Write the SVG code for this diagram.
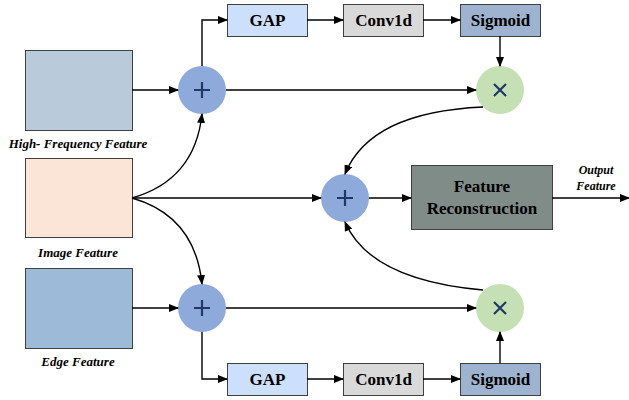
<svg xmlns="http://www.w3.org/2000/svg" width="629" height="400" viewBox="0 0 629 400">
<defs>
<marker id="ah" markerWidth="10" markerHeight="8" refX="9" refY="4" orient="auto" markerUnits="userSpaceOnUse">
<path d="M0,0 L10,4 L0,8 Z" fill="#000"/>
</marker>
<style>
.feat{stroke:#404040;stroke-width:1}
.blk{stroke:#404040;stroke-width:1}
.sym{stroke:#1f3864;stroke-width:2.2;fill:none}
.ln{stroke:#000;stroke-width:1.4;fill:none;marker-end:url(#ah)}
</style>
</defs>
<rect width="629" height="400" fill="#fff"/>

<g id="hf-feature">
<rect class="feat" x="25.5" y="50.5" width="107" height="80" fill="#b9cadb"/>
<text font-family="Liberation Serif" font-weight="bold" font-style="italic" font-size="13" text-anchor="middle" x="78" y="148">High- Frequency Feature</text>
</g>
<g id="image-feature">
<rect class="feat" x="25.5" y="158.5" width="107" height="79" fill="#fbe5d6"/>
<text font-family="Liberation Serif" font-weight="bold" font-style="italic" font-size="13" text-anchor="middle" x="78" y="257">Image Feature</text>
</g>
<g id="edge-feature">
<rect class="feat" x="25.5" y="268.5" width="107" height="80" fill="#9dbbd9"/>
<text font-family="Liberation Serif" font-weight="bold" font-style="italic" font-size="13" text-anchor="middle" x="78" y="366">Edge Feature</text>
</g>

<g id="add-top">
<circle cx="202" cy="90" r="24" fill="#8eaadb"/>
<path class="sym" d="M194,90 H210 M202,82 V98"/>
</g>
<g id="add-bottom">
<circle cx="202" cy="308" r="24" fill="#8eaadb"/>
<path class="sym" d="M194,308 H210 M202,300 V316"/>
</g>
<g id="add-mid">
<circle cx="345" cy="198" r="24" fill="#8eaadb"/>
<path class="sym" d="M337,198 H353 M345,190 V206"/>
</g>
<g id="mul-top">
<circle cx="500" cy="90" r="24" fill="#c5e0b4"/>
<path class="sym" d="M494,84 L506,96 M506,84 L494,96"/>
</g>
<g id="mul-bottom">
<circle cx="500" cy="308" r="24" fill="#c5e0b4"/>
<path class="sym" d="M494,302 L506,314 M506,302 L494,314"/>
</g>

<g id="gap-top">
<rect class="blk" x="227.5" y="4.5" width="80" height="32" fill="#cce0fb"/>
<text font-family="Liberation Serif" font-weight="bold" font-size="17" text-anchor="middle" x="267.5" y="26">GAP</text>
</g>
<g id="conv-top">
<rect class="blk" x="343.5" y="4.5" width="80" height="32" fill="#d9d9d9"/>
<text font-family="Liberation Serif" font-weight="bold" font-size="17" text-anchor="middle" x="383.5" y="26">Conv1d</text>
</g>
<g id="sig-top">
<rect class="blk" x="460.5" y="4.5" width="80" height="32" fill="#9db3cf"/>
<text font-family="Liberation Serif" font-weight="bold" font-size="17" text-anchor="middle" x="500.5" y="26">Sigmoid</text>
</g>
<g id="gap-bottom">
<rect class="blk" x="227.5" y="363.5" width="80" height="32" fill="#cce0fb"/>
<text font-family="Liberation Serif" font-weight="bold" font-size="17" text-anchor="middle" x="267.5" y="385">GAP</text>
</g>
<g id="conv-bottom">
<rect class="blk" x="343.5" y="363.5" width="80" height="32" fill="#d9d9d9"/>
<text font-family="Liberation Serif" font-weight="bold" font-size="17" text-anchor="middle" x="383.5" y="385">Conv1d</text>
</g>
<g id="sig-bottom">
<rect class="blk" x="460.5" y="363.5" width="80" height="32" fill="#9db3cf"/>
<text font-family="Liberation Serif" font-weight="bold" font-size="17" text-anchor="middle" x="500.5" y="385">Sigmoid</text>
</g>

<g id="reconstruction">
<rect class="blk" x="411.5" y="165.5" width="141" height="64" fill="#7f8c88"/>
<text font-family="Liberation Serif" font-weight="bold" font-size="17" text-anchor="middle" x="482" y="192">Feature</text>
<text font-family="Liberation Serif" font-weight="bold" font-size="17" text-anchor="middle" x="482" y="214">Reconstruction</text>
</g>
<g id="output-label">
<text font-family="Liberation Serif" font-weight="bold" font-style="italic" font-size="12" text-anchor="middle" x="596" y="174">Output</text>
<text font-family="Liberation Serif" font-weight="bold" font-style="italic" font-size="12" text-anchor="middle" x="596" y="190">Feature</text>
</g>

<g id="connectors">
<path class="ln" d="M132,90 H178"/>
<path class="ln" d="M132,308 H178"/>
<path class="ln" d="M132,198 H321"/>
<path class="ln" d="M132,198 Q195,180 202,114"/>
<path class="ln" d="M132,198 Q195,216 202,284"/>
<path class="ln" d="M202,66 V20 H227"/>
<path class="ln" d="M202,332 V379 H227"/>
<path class="ln" d="M307,20 H343"/>
<path class="ln" d="M423,20 H460"/>
<path class="ln" d="M307,379 H343"/>
<path class="ln" d="M423,379 H460"/>
<path class="ln" d="M500,36 V66"/>
<path class="ln" d="M500,363 V332"/>
<path class="ln" d="M226,90 H476"/>
<path class="ln" d="M226,308 H476"/>
<path class="ln" d="M483,107 Q370,112 345,174"/>
<path class="ln" d="M483,290 Q370,280 345,222"/>
<path class="ln" d="M369,198 H411"/>
<path class="ln" d="M552,198 H629"/>
</g>
</svg>
